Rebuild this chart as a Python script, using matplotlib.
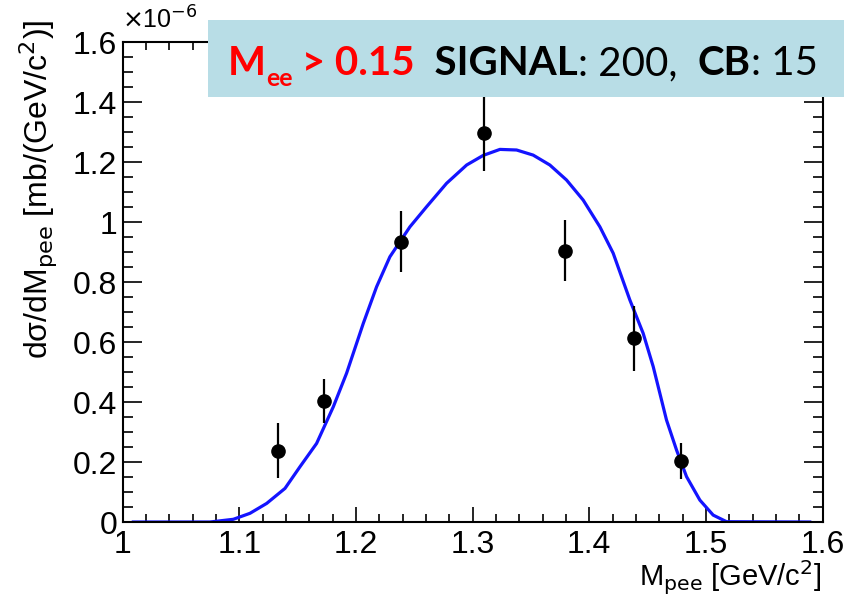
import matplotlib
matplotlib.use("Agg")
import matplotlib.pyplot as plt
from matplotlib.patches import Rectangle
from matplotlib.ticker import MultipleLocator, FuncFormatter

# Measured cross section points (x in GeV/c^2, y in units of 1e-6 mb/(GeV/c^2))
m_pee = [1.133, 1.173, 1.239, 1.310, 1.379, 1.4385, 1.4785]
dsigma = [0.238, 0.404, 0.934, 1.296, 0.904, 0.612, 0.204]
dsigma_err = [0.092, 0.074, 0.102, 0.125, 0.101, 0.108, 0.061]

# Fitted signal shape
fit_x = [1.0092, 1.0749, 1.0949, 1.1092, 1.1235, 1.1392, 1.152, 1.1663,
         1.1806, 1.192, 1.2063, 1.2177, 1.2291, 1.2463, 1.2606, 1.2777,
         1.2949, 1.3091, 1.3234, 1.3377, 1.3519, 1.3662, 1.3805, 1.3948,
         1.4091, 1.4205, 1.4348, 1.4462, 1.4548, 1.4605, 1.4662, 1.4748,
         1.4834, 1.4948, 1.5062, 1.5177, 1.589]
fit_y = [0.0, 0.0, 0.009, 0.029, 0.062, 0.112, 0.184, 0.262,
         0.384, 0.496, 0.662, 0.784, 0.884, 0.984, 1.051, 1.129,
         1.19, 1.222, 1.242, 1.24, 1.223, 1.19, 1.14, 1.073,
         0.984, 0.896, 0.74, 0.629, 0.518, 0.429, 0.34, 0.24,
         0.151, 0.073, 0.023, 0.001, 0.0]

x_ticks = [1.0, 1.1, 1.2, 1.3, 1.4, 1.5, 1.6]
y_ticks = [0.0, 0.2, 0.4, 0.6, 0.8, 1.0, 1.2, 1.4, 1.6]

W, H = 844, 599
fig = plt.figure(figsize=(W / 100, H / 100), dpi=100)
ax = fig.add_axes([122.6 / W, 77 / H, 700 / W, 480 / H])

tick_font = ["Liberation Sans", "DejaVu Sans"]

ax.plot(fit_x, fit_y, color="#1414ff", lw=2.3, zorder=2)
ax.errorbar(m_pee, dsigma, yerr=dsigma_err, fmt="o", color="black",
            ms=9.5, elinewidth=1.6, capsize=0, zorder=3)

ax.set_xlim(1.0, 1.6)
ax.set_ylim(0.0, 1.6)
ax.set_xticks(x_ticks)
ax.set_yticks(y_ticks)
ax.xaxis.set_minor_locator(MultipleLocator(0.02))
ax.yaxis.set_minor_locator(MultipleLocator(0.05))
fmt = FuncFormatter(lambda v, p: "%g" % round(v, 2))
ax.xaxis.set_major_formatter(fmt)
ax.yaxis.set_major_formatter(fmt)

for s in ax.spines.values():
    s.set_linewidth(1.5)
ax.tick_params(which="both", direction="in", top=True, right=True,
               width=1.2, labelsize=23)
ax.tick_params(axis="x", which="major", length=11, pad=6)
ax.tick_params(axis="x", which="minor", length=6)
ax.tick_params(axis="y", which="major", length=14, pad=4)
ax.tick_params(axis="y", which="minor", length=7)
for lab in ax.get_xticklabels() + ax.get_yticklabels():
    lab.set_family(tick_font)

# exponent marker
fig.text(122 / W, 1 - 20 / H, r"$\times$10$^{-6}$", fontsize=18,
         family=tick_font, ha="left", va="center")

# axis titles
fig.text(38 / W, 1 - 20 / H, "dσ/dM$_{\\mathrm{pee}}$ [mb/(GeV/c$^{2}$)]",
         rotation=90, ha="center", va="top", fontsize=23, family=tick_font)
fig.text(822 / W, 1 - 578 / H, r"M$_{\mathrm{pee}}$ [GeV/c$^{2}$]",
         ha="right", va="center", fontsize=21, family=tick_font)

# selection banner, drawn over the top of the frame
fig.patches.append(Rectangle((208 / W, 1 - 97 / H), (W - 208) / W, 77 / H,
                             transform=fig.transFigure, facecolor="#b8dde6",
                             edgecolor="none", zorder=5))
bfont = ["Lato", "DejaVu Sans"]
fs = 29
pieces = [
    ("M", "red", "bold", fs, 0),
    ("ee", "red", "bold", fs * 0.62, -11),
    (" > 0.15", "red", "bold", fs, 0),
    ("  SIGNAL", "black", "bold", fs, 0),
    (": 200,  ", "black", "normal", fs, 0),
    ("CB", "black", "bold", fs, 0),
    (": 15", "black", "normal", fs, 0),
]
renderer = fig.canvas.get_renderer()
x_px = 228.0
base_px = H - 75.0
for txt, col, wt, size, dy in pieces:
    t = fig.text(x_px / W, (base_px + dy) / H, txt, color=col, fontweight=wt,
                 fontsize=size, family=bfont, ha="left", va="baseline",
                 zorder=6)
    bb = t.get_window_extent(renderer=renderer)
    x_px = bb.x1

fig.savefig("out.png", dpi=100)
